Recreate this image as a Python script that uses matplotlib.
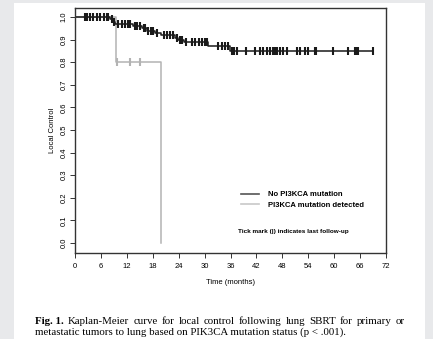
import numpy as np
import matplotlib
matplotlib.use("Agg")
import matplotlib.pyplot as plt
from matplotlib.patches import Rectangle
from matplotlib.lines import Line2D

# ---- data ----
nomut_times = [0, 8.2, 8.7, 9.2, 13.5, 15.4, 16.6, 18.5, 20.0, 23.2, 23.8, 25.3, 30.8, 35.8]
nomut_surv = [1.0, 0.99, 0.98, 0.97, 0.96, 0.95, 0.94, 0.93, 0.92, 0.905, 0.898, 0.888, 0.872, 0.85]
nomut_end = 69.1
nomut_censor = [2.2, 2.7, 3.5, 4.2, 5.0, 5.8, 6.6, 7.3, 7.7, 8.5, 9.0, 9.9, 10.8, 11.6, 12.3, 12.7,
                13.9, 14.4, 15.0, 15.9, 16.3, 17.0, 17.6, 18.0, 19.0, 20.5, 21.2, 22.0, 22.6, 23.5,
                24.2, 24.7, 25.8, 27.0, 27.8, 28.6, 29.3, 30.1, 30.5, 33.2, 34.0, 34.7, 35.5, 36.3,
                36.7, 37.4, 39.7, 41.7, 42.8, 43.6, 44.4, 45.1, 45.9, 46.3, 46.7, 47.5, 48.2, 49.0,
                51.3, 52.1, 53.2, 54.0, 55.6, 55.9, 59.8, 63.3, 64.8, 65.2, 65.6, 69.1]

mut_times = [0, 9.4, 20.0]
mut_surv = [1.0, 0.8, 0.0]
mut_end = 20.0
mut_censor = [9.8, 12.7, 15.0]

x_ticks = [0, 6, 12, 18, 24, 30, 36, 42, 48, 54, 60, 66, 72]
y_ticks = [0.0, 0.1, 0.2, 0.3, 0.4, 0.5, 0.6, 0.7, 0.8, 0.9, 1.0]
legend_labels = ["No PI3KCA mutation", "PI3KCA mutation detected"]
caption_lead = "Fig. 1."
caption_line1 = "Kaplan-Meier curve for local control following lung SBRT for primary or"
caption_line2 = "metastatic tumors to lung based on PIK3CA mutation status (p < .001)."

BLACK = "#1a1a1a"
GRAY = "#b3b3b3"
SANS = "Liberation Sans"
SERIF = "Liberation Serif"
W, H = 433, 339


def step_at(times, surv, t):
    idx = np.searchsorted(times, t, side="right") - 1
    return np.asarray(surv)[idx]


fig = plt.figure(figsize=(W / 100, H / 100), dpi=100)
fig.patch.set_facecolor("#e8e9eb")
fig.patches.append(Rectangle((14 / W, 0), (425 - 14) / W, 336 / H,
                             transform=fig.transFigure, facecolor="white",
                             edgecolor="none", zorder=-5))

ax = fig.add_axes([75 / W, 86 / H, 311 / W, 245 / H])
ax.set_xlim(0, 72)
ax.set_ylim(-0.0442, 1.0398)
ax.set_facecolor("white")

for times, surv, end, cens, col, z in [
    (mut_times, mut_surv, mut_end, mut_censor, GRAY, 3),
    (nomut_times, nomut_surv, nomut_end, nomut_censor, BLACK, 5),
]:
    xs = list(times) + [end]
    ys = list(surv) + [surv[-1]]
    ax.step(xs, ys, where="post", color=col, lw=1.1, zorder=z)
    cy = step_at(times, surv, np.array(cens))
    ax.plot(cens, cy, linestyle="none", marker="|", markersize=6,
            markeredgewidth=1.5, color=col, zorder=z + 1)

ax.set_xticks(x_ticks)
ax.set_xticklabels([str(v) for v in x_ticks], fontsize=5.5, family=SANS)
ax.set_yticks(y_ticks)
ax.set_yticklabels([f"{v:.1f}" for v in y_ticks], fontsize=5.5, family=SANS,
                   rotation=90, va="center")
ax.tick_params(axis="x", direction="out", length=3.5, width=0.7, color="#333333", pad=4)
ax.tick_params(axis="y", direction="out", length=3.5, width=0.7, color="#333333", pad=2)
for s in ax.spines.values():
    s.set_linewidth(1.0)
    s.set_color("#333333")

ax.set_xlabel("Time (months)", fontsize=5.5, family=SANS, labelpad=6.5)
ax.set_ylabel("Local Control", fontsize=5.5, family=SANS, labelpad=3)

handles = [Line2D([0], [0], color="#555555", lw=1.2),
           Line2D([0], [0], color="#c8c8c8", lw=1.2)]
ax.legend(handles, legend_labels, loc="upper left",
          bbox_to_anchor=((234 - 75) / 311, (253 - 184) / 245),
          frameon=False, handlelength=2.4, handletextpad=1.1,
          labelspacing=0.45, prop={"family": SANS, "size": 5.5, "weight": "bold"})

fig.text(238 / W, 1 - 231 / H, "Tick mark (|) indicates last follow-up",
         fontsize=4.6, family=SANS, weight="bold", va="center", ha="left")

# caption, line 1 justified between x=35 and x=405
CFS = 7.8
renderer = fig.canvas.get_renderer()
x0, x1 = 35, 405
y1, y2 = 1 - 321 / H, 1 - 332 / H
lead = fig.text(x0 / W, y1, caption_lead, fontsize=CFS, family=SERIF, weight="bold",
                va="center", ha="left")
lead_w = lead.get_window_extent(renderer).width
words = caption_line1.split()
widths = []
for w in words:
    t = fig.text(0, 0, w, fontsize=CFS, family=SERIF)
    widths.append(t.get_window_extent(renderer).width)
    t.remove()
space_t = fig.text(0, 0, "a a", fontsize=CFS, family=SERIF)
sw = space_t.get_window_extent(renderer).width
space_t.remove()
aa = fig.text(0, 0, "aa", fontsize=CFS, family=SERIF)
sw -= aa.get_window_extent(renderer).width
aa.remove()
start = x0 + lead_w + sw * 1.5
avail = x1 - start
gap = (avail - sum(widths)) / (len(words) - 1)
xc = start
for w, wd in zip(words, widths):
    fig.text(xc / W, y1, w, fontsize=CFS, family=SERIF, va="center", ha="left")
    xc += wd + gap
fig.text(x0 / W, y2, caption_line2, fontsize=CFS, family=SERIF, va="center", ha="left")

fig.savefig("out.png", dpi=100, facecolor=fig.get_facecolor())
